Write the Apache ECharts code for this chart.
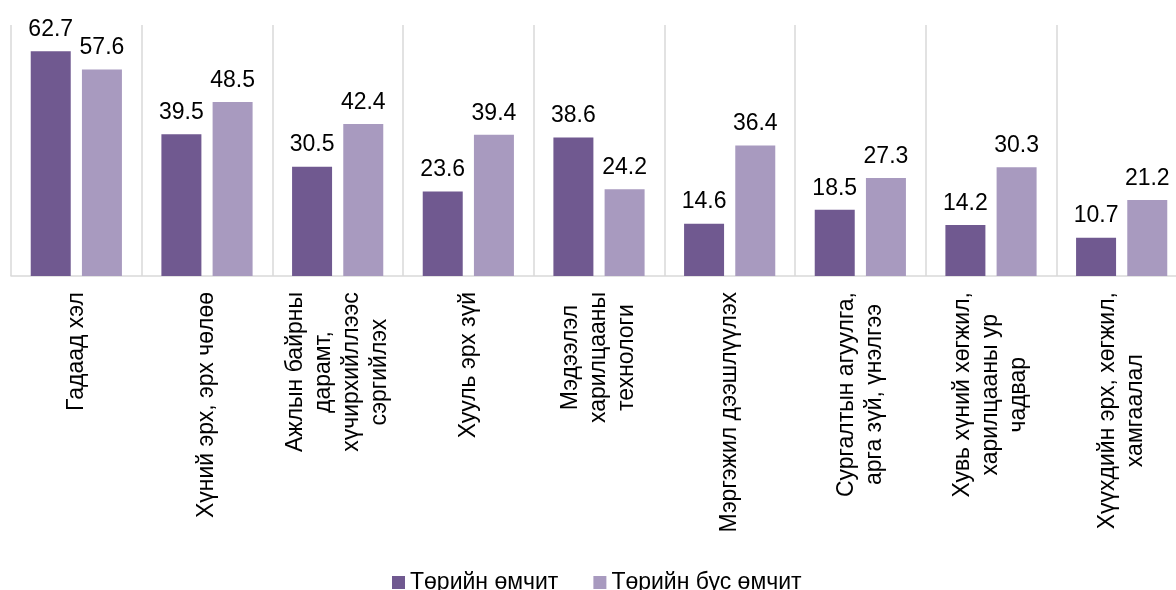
<!DOCTYPE html>
<html>
<head>
<meta charset="utf-8">
<script src="https://cdn.jsdelivr.net/npm/echarts@6/dist/echarts.min.js"></script>
<style>
html,body{margin:0;padding:0;background:#fff;overflow:hidden;width:1176px;height:590px;}
#chart{width:1187px;height:590px;}
</style>
</head>
<body>
<div id="chart"></div>
<script>
const categories = [
  "Гадаад хэл",
  "Хүний эрх, эрх чөлөө",
  "Ажлын байрны\nдарамт,\nхүчирхийллээс\nсэргийлэх",
  "Хууль эрх зүй",
  "Мэдээлэл\nхарилцааны\nтехнологи",
  "Мэргэжил дээшлүүлэх",
  "Сургалтын агуулга,\nарга зүй, үнэлгээ",
  "Хувь хүний хөгжил,\nхарилцааны ур\nчадвар",
  "Хүүхдийн эрх, хөгжил,\nхамгаалал"
];
const seriesNames = ["Төрийн өмчит", "Төрийн бус өмчит"];
const stateOwned = [62.7, 39.5, 30.5, 23.6, 38.6, 14.6, 18.5, 14.2, 10.7];
const nonStateOwned = [57.6, 48.5, 42.4, 39.4, 24.2, 36.4, 27.3, 30.3, 21.2];

const FONT = "'Liberation Sans', Arial, sans-serif";
const chart = echarts.init(document.getElementById('chart'), null, {renderer: 'canvas'});

const labelStyle = {
  show: true,
  position: 'top',
  distance: 10,
  fontSize: 23,
  fontFamily: FONT,
  color: '#000'
};

chart.setOption({
  animation: false,
  backgroundColor: '#fff',
  textStyle: {fontFamily: FONT},
  legend: {
    data: seriesNames,
    left: 387,
    top: 566,
    icon: 'rect',
    itemWidth: 13,
    itemHeight: 13,
    itemGap: 35,
    textStyle: {fontSize: 23, fontFamily: FONT, color: '#000'}
  },
  grid: {left: 11, top: 25, right: 0, height: 251, containLabel: false},
  xAxis: {
    type: 'category',
    data: categories,
    axisLine: {show: true, lineStyle: {color: '#d9d9d9', width: 1.5}},
    axisTick: {show: false},
    splitLine: {show: true, interval: 0, lineStyle: {color: '#d9d9d9', width: 1.5}},
    axisLabel: {
      interval: 0,
      rotate: 90,
      margin: 16,
      formatter: function (v) {
        return v.split('\n').map(function (s) { return '{c|' + s + '}'; }).join('\n');
      },
      rich: {
        c: {align: 'center', fontSize: 23, lineHeight: 28, fontFamily: FONT, color: '#000'}
      }
    }
  },
  yAxis: {
    type: 'value',
    min: 0,
    max: 70,
    show: false,
    splitLine: {show: false}
  },
  series: [
    {
      name: seriesNames[0],
      type: 'bar',
      data: stateOwned,
      barWidth: 40,
      barGap: '28%',
      itemStyle: {color: '#705990'},
      label: labelStyle
    },
    {
      name: seriesNames[1],
      type: 'bar',
      data: nonStateOwned,
      barWidth: 40,
      barGap: '28%',
      itemStyle: {color: '#a89abf'},
      label: labelStyle
    }
  ]
});
</script>
</body>
</html>
